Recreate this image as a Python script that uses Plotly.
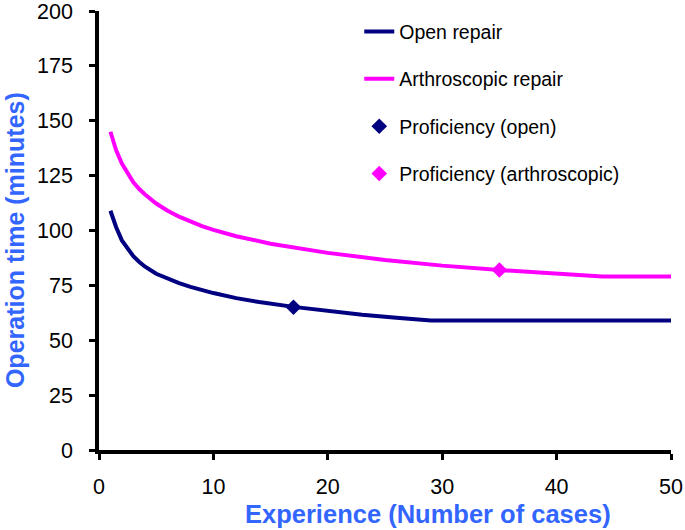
import plotly.graph_objects as go

# Open repair learning curve
open_x = [1, 1.5, 2, 2.5, 3, 3.5, 4, 5, 6, 7, 8, 9, 10, 12, 14, 17, 20, 23, 26, 29, 35, 40, 45, 50]
open_y = [109, 101.5, 95.5, 91.5, 88.3, 85.8, 83.6, 80.3, 77.9, 76, 74.3, 72.8, 71.5, 69.2, 67.4, 65.2, 63.3, 61.6, 60.2, 59, 59, 59, 59, 59]

# Arthroscopic repair learning curve
arth_x = [1, 1.5, 2, 2.5, 3, 3.5, 4, 5, 6, 7, 8, 9, 10, 12, 15, 18, 20, 25, 30, 35, 40, 44, 50]
arth_y = [145, 136.5, 130.5, 125.8, 122, 119, 116.5, 112.3, 109, 106.3, 104, 102, 100.3, 97.4, 94, 91.3, 89.8, 86.6, 84, 82, 80.3, 79, 79]

# Proficiency points
prof_open_x = [17]
prof_open_y = [65]
prof_arth_x = [35]
prof_arth_y = [82]

x_ticks = [0, 10, 20, 30, 40, 50]
y_ticks = [0, 25, 50, 75, 100, 125, 150, 175, 200]

NAVY = "#000080"
MAGENTA = "#FF00FF"
BLUE = "#3366FF"
FONT = "Arial, Liberation Sans, sans-serif"

fig = go.Figure()
fig.add_trace(go.Scatter(x=open_x, y=open_y, mode="lines", name="Open repair",
                         line=dict(color=NAVY, width=4),
                         legendgroup="a"))
fig.add_trace(go.Scatter(x=arth_x, y=arth_y, mode="lines", name="Arthroscopic repair",
                         line=dict(color=MAGENTA, width=4),
                         legendgroup="b"))
fig.add_trace(go.Scatter(x=prof_open_x, y=prof_open_y, mode="markers", name="Proficiency (open)",
                         marker=dict(color=NAVY, size=12, symbol="diamond"),
                         legendgroup="c"))
fig.add_trace(go.Scatter(x=prof_arth_x, y=prof_arth_y, mode="markers", name="Proficiency (arthroscopic)",
                         marker=dict(color=MAGENTA, size=12, symbol="diamond"),
                         legendgroup="d"))

fig.update_layout(
    width=685, height=530,
    margin=dict(l=99, r=14, t=11, b=80, autoexpand=False),
    paper_bgcolor="white", plot_bgcolor="white",
    font=dict(family=FONT, color="black"),
    showlegend=True,
    legend=dict(x=0.455, y=0.997, xanchor="left", yanchor="top",
                font=dict(size=19.5, family=FONT, color="black"),
                bgcolor="rgba(0,0,0,0)", tracegroupgap=19),
    xaxis=dict(range=[0, 50], tickvals=x_ticks, showgrid=False, zeroline=False,
               showline=True, linecolor="black", linewidth=3.5, automargin=False,
               ticks="outside", ticklen=6, tickwidth=3, tickcolor="black",
               tickfont=dict(size=21.5, family=FONT, color="black"),
               ticklabelstandoff=8, ticklabeloverflow="allow"),
    yaxis=dict(range=[0, 200], tickvals=y_ticks, showgrid=False, zeroline=False,
               showline=True, linecolor="black", linewidth=3.5, automargin=False,
               ticks="outside", ticklen=6, tickwidth=3, tickcolor="black",
               tickfont=dict(size=21.5, family=FONT, color="black"),
               ticklabelstandoff=12, ticklabeloverflow="allow"),
    annotations=[
        dict(text="<b>Experience (Number of cases)</b>", xref="paper", yref="paper",
             x=0.576, y=-0.146, xanchor="center", yanchor="middle", showarrow=False,
             font=dict(size=25.5, family=FONT, color=BLUE)),
        dict(text="<b>Operation time (minutes)</b>", xref="paper", yref="paper",
             x=-0.147, y=0.478, xanchor="center", yanchor="middle", showarrow=False,
             textangle=-90, font=dict(size=25, family=FONT, color=BLUE)),
    ],
)

fig.write_html("out.html", config={"displayModeBar": False},
               post_script="document.body.style.margin='0';document.body.style.overflow='hidden';")
